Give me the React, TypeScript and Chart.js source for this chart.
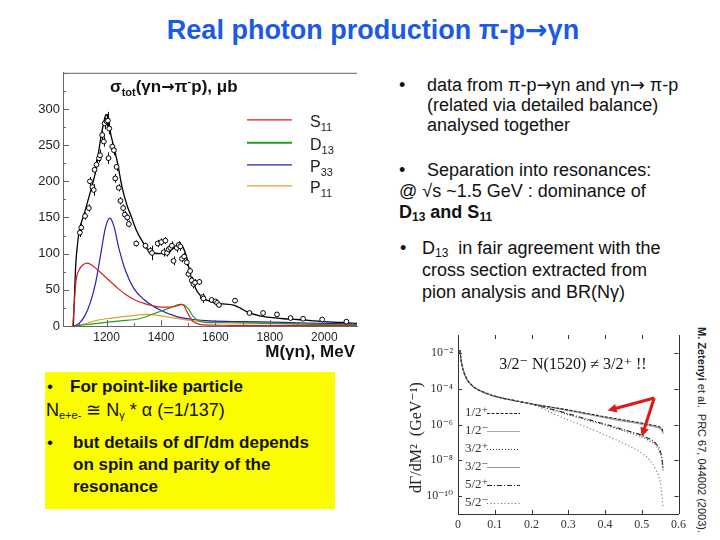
import React, { useEffect, useRef } from "react";
import { Chart, registerables } from "chart.js";
Chart.register(...registerables);

const SANS = "'Liberation Sans', Arial, Helvetica, sans-serif";
const SERIF = "'Liberation Serif', 'Times New Roman', 'DejaVu Serif', serif";
const ARROWF = "'DejaVu Sans', sans-serif";

// ---------- main chart: sigma_tot(gamma n -> pi- p) ----------
const xTicksMain = [1200, 1400, 1600, 1800, 2000];
const yTicksMain = [0, 50, 100, 150, 200, 250, 300];

const totalM = [1078, 1082, 1087, 1093, 1100, 1117, 1141, 1160, 1178, 1190, 1198, 1206, 1215, 1225, 1240, 1257, 1275, 1290, 1310, 1330, 1361, 1397, 1430, 1450, 1468, 1482, 1495, 1507, 1519, 1531, 1545, 1556, 1580, 1617, 1666, 1690, 1714, 1763, 1800, 1850, 1900, 1950, 2000, 2060, 2120];
const totalV = [0, 40, 86, 112, 132, 154, 186, 214, 258, 282, 292, 286, 266, 250, 226, 192, 167, 152, 132, 118, 102, 100, 103, 109, 113, 108, 94, 72, 60, 49, 42, 38, 34, 31, 29, 25, 20, 14, 12, 10, 9, 7.5, 6, 5, 3.5];

const s11M = [1076, 1082, 1088, 1100, 1115, 1129, 1150, 1178, 1215, 1245, 1276, 1310, 1340, 1370, 1400, 1440, 1460, 1475, 1485, 1495, 1507, 1519, 1535, 1560, 1650, 2120];
const s11V = [0, 35, 63, 78, 85, 87, 83, 74, 61, 51, 42, 35, 31, 28, 26, 26.5, 28, 30, 28, 20, 12, 6, 3, 1.5, 1, 0.5];

const d13M = [1085, 1150, 1250, 1320, 1373, 1433, 1470, 1485, 1500, 1519, 1540, 1560, 1650, 1800, 2000, 2120];
const d13V = [0, 3, 7, 10, 17, 25, 30, 29, 24, 13, 7, 5, 4.5, 3.5, 2, 1.5];

const p33M = [1080, 1100, 1120, 1140, 1160, 1178, 1196, 1212, 1227, 1245, 1269, 1300, 1336, 1397, 1458, 1519, 1580, 1700, 1850, 2000, 2120];
const p33V = [0, 4, 14, 32, 60, 98, 136, 149, 138, 108, 77, 52, 37, 22, 13, 9, 7, 6, 5, 3.5, 2.5];

const p11M = [1085, 1120, 1166, 1220, 1288, 1349, 1400, 1450, 1500, 1550, 1650, 1800, 1950, 2120];
const p11V = [0, 3, 8, 11, 14, 16, 14, 11, 8, 6, 5, 4, 3, 2];

const dataM = [1102, 1107, 1121, 1135, 1139, 1148, 1153, 1156, 1163, 1172, 1176, 1184, 1190, 1193, 1200, 1205, 1210, 1207, 1221, 1227, 1237, 1232, 1245, 1251, 1261, 1267, 1276, 1282, 1309, 1343, 1361, 1367, 1388, 1401, 1416, 1410, 1422, 1428, 1434, 1440, 1446, 1458, 1465, 1471, 1477, 1485, 1495, 1501, 1507, 1513, 1519, 1525, 1541, 1553, 1556, 1586, 1600, 1606, 1613, 1672, 1725, 1775, 1826, 1876, 1922, 1992, 2081];
const dataV = [129, 136, 152, 163, 200, 192, 188, 216, 223, 232, 236, 264, 255, 280, 283, 284, 273, 232, 248, 243, 220, 204, 191, 173, 163, 154, 150, 141, 114, 111, 104, 101, 114, 116, 118, 102, 101, 106, 108, 111, 90, 108, 112, 110, 93, 96, 88, 72, 76, 63, 58, 60, 61, 40, 38, 36, 34, 32, 29, 35, 18, 18, 16, 11, 10, 9, 6];
const dataErr = [6, 6, 5, 5, 6, 6, 8, 6, 7, 6, 8, 6, 7, 8, 10, 12, 8, 8, 6, 7, 6, 6, 5, 5, 5, 5, 5, 5, 4, 4, 5, 10, 5, 5, 5, 6, 5, 6, 6, 6, 6, 6, 5, 6, 5, 5, 5, 5, 5, 5, 6, 5, 4, 5, 6, 3, 3, 4, 3, 3, 2, 2, 2, 2, 2, 2, 2];

const seriesNames = ["S", "D", "P", "P"];
const seriesSubs = ["11", "13", "33", "11"];
const seriesColors = ["#d42020", "#22a022", "#2020c0", "#e0a030"];

// ---------- small chart: dGamma/dM^2 ----------
const smallXTicks = [0, 0.1, 0.2, 0.3, 0.4, 0.5, 0.6];
const smallYTicks = [1e-10, 1e-8, 1e-6, 1e-4, 1e-2];
const massSq = [0.005, 0.01, 0.02, 0.04, 0.07, 0.1, 0.15, 0.2, 0.25, 0.3, 0.35, 0.4, 0.45, 0.5, 0.52, 0.54, 0.55, 0.555, 0.558];
const g12p = [1.41e-2, 2.5e-3, 5.0e-4, 1.41e-4, 6.3e-5, 3.8e-5, 2.24e-5, 1.41e-5, 9.6e-6, 6.5e-6, 4.2e-6, 2.7e-6, 1.8e-6, 1.2e-6, 1.0e-6, 8.3e-7, 7.0e-7, 5.6e-7, 3.8e-7];
const g12m = [1.41e-2, 2.5e-3, 5.0e-4, 1.41e-4, 6.3e-5, 3.8e-5, 2.24e-5, 1.41e-5, 9.5e-6, 6.3e-6, 4.0e-6, 2.5e-6, 1.66e-6, 1.12e-6, 9.3e-7, 7.6e-7, 6.3e-7, 5.0e-7, 3.2e-7];
const g32p = [1.41e-2, 2.5e-3, 5.0e-4, 1.41e-4, 6.3e-5, 3.8e-5, 2.24e-5, 1.41e-5, 7.1e-6, 3.5e-6, 1.78e-6, 9.3e-7, 4.5e-7, 2.0e-7, 1.26e-7, 6.3e-8, 2.5e-8, 1.0e-8, 2.5e-9];
const g32m = [1.41e-2, 2.5e-3, 5.0e-4, 1.41e-4, 6.3e-5, 3.8e-5, 2.24e-5, 1.41e-5, 9.3e-6, 6.1e-6, 3.8e-6, 2.4e-6, 1.55e-6, 1.05e-6, 8.7e-7, 7.0e-7, 5.8e-7, 4.5e-7, 3.0e-7];
const g52p = [1.41e-2, 2.5e-3, 5.0e-4, 1.41e-4, 6.3e-5, 3.8e-5, 2.24e-5, 1.41e-5, 7.6e-6, 4.0e-6, 2.0e-6, 1.05e-6, 5.2e-7, 2.5e-7, 1.6e-7, 7.9e-8, 3.5e-8, 1.26e-8, 3.2e-9];
const g52m = [1.41e-2, 2.5e-3, 5.0e-4, 1.41e-4, 6.3e-5, 3.8e-5, 2.24e-5, 1.41e-5, 5.0e-6, 1.78e-6, 7.1e-7, 2.6e-7, 8.9e-8, 2.5e-8, 1.12e-8, 2.5e-9, 6.3e-10, 1.0e-10, 2.5e-11];
const spinLabels = ["1/2\u207A", "1/2\u207B", "3/2\u207A", "3/2\u207B", "5/2\u207A", "5/2\u207B"];
const spinSeries = [g12p, g12m, g32p, g32m, g52p, g52m];
const spinColors = ["#222", "#aaa", "#333", "#999", "#222", "#666"];
const spinDash = [[3, 1.5], [], [1, 2], [], [5, 2, 1, 2], [1, 2.5]];
const arrowFrom = { x: 0.534, y: 3e-5 };
const arrowTips = [{ x: 0.407, y: 6e-6 }, { x: 0.5, y: 2.1e-7 }];
const noteAt = { x: 0.112, y: 2.2e-3 };

const pts = (xs: number[], ys: number[]) => xs.map((x, i) => ({ x, y: ys[i] }));

const SUP: Record<string, string> = { "-": "\u207B", "0": "\u2070", "1": "\u00B9", "2": "\u00B2", "3": "\u00B3", "4": "\u2074", "5": "\u2075", "6": "\u2076", "7": "\u2077", "8": "\u2078", "9": "\u2079" };

function line(ctx: CanvasRenderingContext2D, x0: number, y0: number, x1: number, y1: number) {
  ctx.beginPath();
  ctx.moveTo(x0, y0);
  ctx.lineTo(x1, y1);
  ctx.stroke();
}

const mainDecor = {
  id: "mainDecor",
  beforeDatasetsDraw(chart: any) {
    const ctx = chart.ctx;
    const ys = chart.scales.y;
    const meta = chart.getDatasetMeta(4);
    ctx.save();
    ctx.strokeStyle = "#000";
    ctx.lineWidth = 1;
    meta.data.forEach((el: any, i: number) => {
      const x = Math.round(el.x) + 0.5;
      line(ctx, x, ys.getPixelForValue(dataV[i] + dataErr[i]), x, ys.getPixelForValue(dataV[i] - dataErr[i]));
    });
    ctx.restore();
  },
  afterDraw(chart: any) {
    const ctx: CanvasRenderingContext2D = chart.ctx;
    const { left, right, top, bottom } = chart.chartArea;
    const xs = chart.scales.x;
    const ys = chart.scales.y;
    ctx.save();
    ctx.strokeStyle = "#666";
    ctx.lineWidth = 1;
    line(ctx, left, top + 0.5, right, top + 0.5);
    for (let v = 0; v <= 350; v += 25) {
      const py = Math.round(ys.getPixelForValue(v)) + 0.5;
      line(ctx, left, py, left + (v % 50 === 0 ? 6 : 3), py);
    }
    for (let v = 1100; v <= 2100; v += 100) {
      const px = Math.round(xs.getPixelForValue(v)) + 0.5;
      line(ctx, px, bottom, px, bottom - (v % 200 === 0 ? 6 : 3));
    }
    // title inside plot
    ctx.fillStyle = "#111";
    ctx.textBaseline = "alphabetic";
    let x = left + 47;
    const by = top + 19;
    const parts: [string, number, number, string][] = [
      ["\u03C3", 17, 0, SANS], ["tot", 11, 4, SANS], ["(\u03B3n", 17, 0, SANS], ["\u2192", 16, 0, ARROWF], ["\u03C0", 17, 0, SANS], ["-", 11, -7, SANS], ["p), \u03BCb", 17, 0, SANS],
    ];
    for (const [t, s, dy, f] of parts) {
      ctx.font = `bold ${s}px ${f}`;
      ctx.fillText(t, x, by + dy);
      x += ctx.measureText(t).width;
    }
    // x-axis title
    ctx.font = `bold 17px ${SANS}`;
    ctx.textAlign = "right";
    ctx.fillText("M(\u03B3n), MeV", right - 2, bottom + 31);
    ctx.textAlign = "left";
    // legend
    const ly = [47, 70, 92, 113];
    seriesNames.forEach((n, i) => {
      const y = top + ly[i];
      ctx.strokeStyle = seriesColors[i];
      ctx.lineWidth = i === 1 ? 2 : 1.2;
      line(ctx, left + 184, y, left + 229, y);
      ctx.fillStyle = "#222";
      ctx.font = `16px ${SANS}`;
      ctx.fillText(n, left + 247, y + 7);
      const w = ctx.measureText(n).width;
      ctx.font = `11px ${SANS}`;
      ctx.fillText(seriesSubs[i], left + 247 + w, y + 11);
    });
    ctx.restore();
  },
};

function arrow(ctx: CanvasRenderingContext2D, x0: number, y0: number, x1: number, y1: number) {
  const a = Math.atan2(y1 - y0, x1 - x0);
  const h = 10;
  const bx = x1 - Math.cos(a) * h * 0.8;
  const by = y1 - Math.sin(a) * h * 0.8;
  line(ctx, x0, y0, bx, by);
  ctx.beginPath();
  ctx.moveTo(x1, y1);
  ctx.lineTo(x1 - h * Math.cos(a - 0.45), y1 - h * Math.sin(a - 0.45));
  ctx.lineTo(x1 - h * Math.cos(a + 0.45), y1 - h * Math.sin(a + 0.45));
  ctx.closePath();
  ctx.fill();
}

const smallDecor = {
  id: "smallDecor",
  afterDraw(chart: any) {
    const ctx: CanvasRenderingContext2D = chart.ctx;
    const { left, right, top, bottom } = chart.chartArea;
    const xs = chart.scales.x;
    const ys = chart.scales.y;
    ctx.save();
    ctx.strokeStyle = "#333";
    ctx.lineWidth = 1;
    line(ctx, Math.round(right) + 0.5, top, Math.round(right) + 0.5, bottom);
    smallXTicks.forEach((v) => {
      const px = Math.round(xs.getPixelForValue(v)) + 0.5;
      line(ctx, px, top, px, top + 4);
      line(ctx, px, bottom, px, bottom - 4);
    });
    smallYTicks.forEach((v) => {
      const py = Math.round(ys.getPixelForValue(v)) + 0.5;
      line(ctx, right, py, right - 4, py);
      line(ctx, left, py, left + 4, py);
    });
    // y title
    ctx.fillStyle = "#222";
    ctx.save();
    ctx.translate(left - 41, (top + bottom) / 2 + 13);
    ctx.rotate(-Math.PI / 2);
    ctx.textAlign = "center";
    ctx.textBaseline = "middle";
    ctx.font = `16px ${SERIF}`;
    ctx.fillText("d\u0393/dM\u00B2  (GeV\u207B\u00B9)", 0, 0);
    ctx.restore();
    // legend
    ctx.font = `13px ${SERIF}`;
    ctx.textBaseline = "middle";
    spinLabels.forEach((lab, i) => {
      const y = top + 78 + 18 * i;
      ctx.fillStyle = "#333";
      ctx.fillText(lab, left + 7, y);
      ctx.strokeStyle = spinColors[i];
      ctx.setLineDash(spinDash[i]);
      line(ctx, left + 29, y + 0.5, left + 62, y + 0.5);
    });
    ctx.setLineDash([]);
    // note
    ctx.font = `16px ${SERIF}`;
    ctx.fillStyle = "#111";
    ctx.textBaseline = "middle";
    ctx.fillText("3/2\u207B N(1520) \u2260 3/2\u207A !!", xs.getPixelForValue(noteAt.x), ys.getPixelForValue(noteAt.y));
    // red arrows
    ctx.strokeStyle = "#e01818";
    ctx.fillStyle = "#e01818";
    ctx.lineWidth = 3;
    const fx = xs.getPixelForValue(arrowFrom.x);
    const fy = ys.getPixelForValue(arrowFrom.y);
    arrowTips.forEach((t) => arrow(ctx, fx, fy, xs.getPixelForValue(t.x), ys.getPixelForValue(t.y)));
    ctx.restore();
  },
};

function MainChart() {
  const ref = useRef<HTMLCanvasElement>(null);
  useEffect(() => {
    const curve = (xs: number[], ys: number[], color: string, w = 1.2) => ({
      type: "line" as const,
      data: pts(xs, ys),
      borderColor: color,
      borderWidth: w,
      pointRadius: 0,
      cubicInterpolationMode: "monotone" as const,
      fill: false,
      order: 2,
    });
    const chart = new Chart(ref.current!, {
      type: "line",
      data: {
        datasets: [
          curve(s11M, s11V, seriesColors[0]),
          curve(d13M, d13V, seriesColors[1]),
          curve(p33M, p33V, seriesColors[2]),
          curve(p11M, p11V, seriesColors[3]),
          {
            type: "scatter" as const,
            data: pts(dataM, dataV),
            showLine: false,
            pointRadius: 2.4,
            pointBorderWidth: 1,
            pointBorderColor: "#000",
            pointBackgroundColor: "#fff",
            order: 0,
          } as any,
          curve(totalM, totalV, "#000", 1.3),
        ],
      },
      options: {
        animation: false,
        responsive: false,
        devicePixelRatio: 1,
        layout: { padding: { top: 8, right: 8, left: 0, bottom: 0 } },
        plugins: { legend: { display: false }, tooltip: { enabled: false } },
        scales: {
          x: {
            type: "linear",
            min: 1040,
            max: 2120,
            afterBuildTicks: (s: any) => { s.ticks = xTicksMain.map((v) => ({ value: v })); },
            afterFit: (s: any) => { s.height = 36; },
            grid: { display: false, drawTicks: false },
            border: { display: true, color: "#666" },
            ticks: { font: { family: SANS, size: 12 }, color: "#222", padding: 4, maxRotation: 0, callback: (v: any) => String(v) },
          },
          y: {
            type: "linear",
            min: 0,
            max: 350,
            afterBuildTicks: (s: any) => { s.ticks = yTicksMain.map((v) => ({ value: v })); },
            afterFit: (s: any) => { s.width = 43; },
            grid: { display: false, drawTicks: false },
            border: { display: true, color: "#666" },
            ticks: { font: { family: SANS, size: 13 }, color: "#222", padding: 3, callback: (v: any) => String(v) },
          },
        },
      },
      plugins: [mainDecor],
    } as any);
    return () => chart.destroy();
  }, []);
  return <canvas ref={ref} width={345} height={300} style={{ position: "absolute", left: 20, top: 62, width: 345, height: 300 }} />;
}

function SmallChart() {
  const ref = useRef<HTMLCanvasElement>(null);
  useEffect(() => {
    const chart = new Chart(ref.current!, {
      type: "line",
      data: {
        datasets: spinSeries.map((s, i) => ({
          data: pts(massSq, s),
          borderColor: spinColors[i],
          borderDash: spinDash[i],
          borderWidth: 1.1,
          pointRadius: 0,
          cubicInterpolationMode: "monotone" as const,
          fill: false,
        })),
      },
      options: {
        animation: false,
        responsive: false,
        devicePixelRatio: 1,
        layout: { padding: { top: 13, right: 8, left: 0, bottom: 0 } },
        plugins: { legend: { display: false }, tooltip: { enabled: false } },
        scales: {
          x: {
            type: "linear",
            min: 0,
            max: 0.6,
            afterBuildTicks: (s: any) => { s.ticks = smallXTicks.map((v) => ({ value: v })); },
            afterFit: (s: any) => { s.height = 21; },
            grid: { display: false, drawTicks: false },
            border: { display: true, color: "#333" },
            ticks: {
              font: { family: SERIF, size: 12 },
              color: "#333",
              padding: 4,
              maxRotation: 0,
              callback: (v: any) => (Number(v) === 0 ? "0" : Number(v).toFixed(1)),
            },
          },
          y: {
            type: "logarithmic",
            min: 1e-11,
            max: 1e-1,
            afterBuildTicks: (s: any) => { s.ticks = smallYTicks.map((v) => ({ value: v })); },
            afterFit: (s: any) => { s.width = 63; },
            grid: { display: false, drawTicks: false },
            border: { display: true, color: "#333" },
            ticks: {
              font: { family: SERIF, size: 12 },
              color: "#333",
              padding: 5,
              callback: (v: any) => "10" + String(Math.round(Math.log10(Number(v)))).split("").map((c) => SUP[c] || c).join(""),
            },
          },
        },
      },
      plugins: [smallDecor],
    } as any);
    return () => chart.destroy();
  }, []);
  return <canvas ref={ref} width={295} height={213} style={{ position: "absolute", left: 395, top: 322, width: 295, height: 213 }} />;
}

const T = ({ x, y, children, bold, size = 18, lh = 22 }: any) => (
  <div style={{ position: "absolute", left: x, top: y - lh / 2, height: lh, lineHeight: `${lh}px`, fontSize: size, fontWeight: bold ? "bold" : "normal", whiteSpace: "nowrap" }}>{children}</div>
);
const Sub = ({ children, size = 12 }: any) => <sub style={{ fontSize: size, verticalAlign: "-3px", lineHeight: 0 }}>{children}</sub>;
const Arr = () => <span style={{ fontFamily: ARROWF, fontWeight: "normal" }}>{"\u2192"}</span>;

export default function App() {
  return (
    <div style={{ position: "fixed", left: 0, top: 0, width: 720, height: 540, background: "#fff", overflow: "hidden", fontFamily: SANS, color: "#111" }}>
      <div style={{ position: "absolute", left: 0, top: 14, width: 746, textAlign: "center", fontSize: 27, lineHeight: "32px", fontWeight: "bold", color: "#1a5ae6", whiteSpace: "nowrap" }}>
        Real photon production {"\u03C0"}-p<span style={{ fontFamily: ARROWF }}>{"\u2192"}</span>{"\u03B3"}n
      </div>
      <MainChart />
      <SmallChart />

      <T x={399} y={85}>{"\u2022"}</T>
      <T x={427} y={85}>data from {"\u03C0"}-p<Arr />{"\u03B3"}n and {"\u03B3"}n<Arr /> {"\u03C0"}-p</T>
      <T x={427} y={105}>(related via detailed balance)</T>
      <T x={427} y={125}>analysed together</T>

      <T x={399} y={170}>{"\u2022"}</T>
      <T x={427} y={170}>Separation into resonances:</T>
      <T x={399} y={191}>@ {"\u221A"}s ~1.5 GeV : dominance of</T>
      <T x={399} y={212} bold>D<Sub>13</Sub> and S<Sub>11</Sub></T>

      <T x={400} y={248}>{"\u2022"}</T>
      <T x={422} y={248}>D<Sub>13</Sub>&nbsp; in fair agreement with the</T>
      <T x={422} y={270}>cross section extracted from</T>
      <T x={422} y={292}>pion analysis and BR(N{"\u03B3"})</T>

      <div style={{ position: "absolute", left: 45, top: 372, width: 290, height: 137, background: "#fcfc00" }} />
      <T x={47} y={387} size={17}>{"\u2022"}</T>
      <T x={70} y={387} bold size={17}>For point-like particle</T>
      <T x={46} y={410}>N<Sub size={11}>e+e-</Sub> {"\u2245"} N<Sub size={11}>{"\u03B3"}</Sub> * {"\u03B1"} (=1/137)</T>
      <T x={47} y={443} size={17}>{"\u2022"}</T>
      <T x={73} y={443} bold size={17}>but details of d{"\u0393"}/dm depends</T>
      <T x={73} y={465} bold size={17}>on spin and parity of the</T>
      <T x={73} y={487} bold size={17}>resonance</T>

      <div style={{ position: "absolute", left: 695, top: 327, writingMode: "vertical-rl", fontSize: 11, lineHeight: "13px", whiteSpace: "nowrap", color: "#222" }}>
        <b>M. Zetenyi</b> et al.&nbsp; PRC 67, 044002 (2003).
      </div>
    </div>
  );
}
